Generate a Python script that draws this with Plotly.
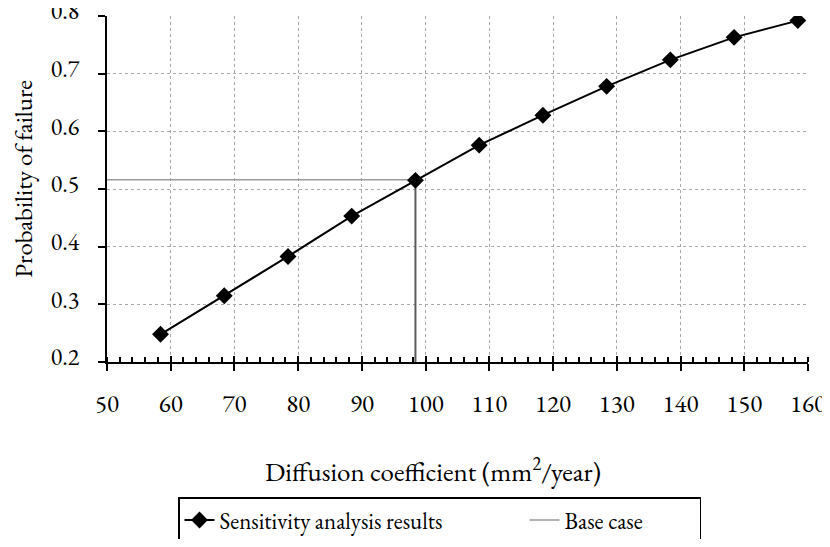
import plotly.graph_objects as go

diffusion = [58.4, 68.4, 78.4, 88.4, 98.4, 108.4, 118.4, 128.4, 138.4, 148.4, 158.4]
prob_failure = [0.248, 0.315, 0.383, 0.453, 0.515, 0.576, 0.628, 0.678, 0.724, 0.763, 0.792]
base_h_x = [50, 98.4]
base_h_y = [0.516, 0.516]
base_v_x = [98.4, 98.4]
base_v_y = [0.516, 0.2]

FONT = "EB Garamond, Liberation Serif, Times New Roman, serif"
OFF = 8  # page body margin in the browser
W, H = 830 - OFF, 547 - 2 * OFF
# target plot-area edges in screen pixels
SX0, SX1, SY0, SY1 = 107, 808, 16, 362.5
L, T = SX0 - OFF, SY0 - OFF
R, B = W - (SX1 - OFF), H - (SY1 - OFF)
PW, PH = SX1 - SX0, SY1 - SY0


def px_x(p):
    return (p - SX0) / PW


def px_y(p):
    return (SY1 - p) / PH


def f(size):
    return dict(family=FONT, size=size, color="black")


fig = go.Figure()
fig.add_trace(go.Scatter(
    x=base_v_x, y=base_v_y, mode="lines", showlegend=False,
    line=dict(color="#5a5a5a", width=2), hoverinfo="skip",
))
fig.add_trace(go.Scatter(
    x=base_h_x, y=base_h_y, mode="lines", name="Base case",
    line=dict(color="#9a9a9a", width=1.6), legendrank=2, legendwidth=130,
))
fig.add_trace(go.Scatter(
    x=diffusion, y=prob_failure, mode="lines+markers",
    name="Sensitivity analysis results", legendrank=1, legendwidth=300,
    line=dict(color="black", width=2),
    marker=dict(symbol="diamond", size=13, color="black"),
))
fig.add_trace(go.Scatter(x=[50], y=[0.2], xaxis="x2", mode="markers",
                         marker=dict(opacity=0), showlegend=False, hoverinfo="skip"))

grid = dict(showgrid=True, gridcolor="#a8a8a8", griddash="dot", gridwidth=1)

fig.update_layout(
    width=W, height=H,
    margin=dict(l=L, r=R, t=T, b=B, autoexpand=False),
    paper_bgcolor="white", plot_bgcolor="white",
    font=f(24),
    showlegend=True,
    legend=dict(
        orientation="h", xref="container", yref="container",
        x=(178 - OFF) / W, xanchor="left", y=1 - (497 - OFF) / H, yanchor="top",
        bordercolor="black", borderwidth=1.5, font=f(23),
        traceorder="normal",
    ),
    xaxis=dict(
        range=[50, 160], dtick=10, tick0=50, automargin=False,
        showline=True, linecolor="black", linewidth=2,
        ticks="outside", ticklen=7, tickwidth=2, tickcolor="black",
        minor=dict(dtick=2, ticks="inside", ticklen=5, tickwidth=2, tickcolor="black", showgrid=False),
        zeroline=False, ticklabelstandoff=11, ticklabeloverflow="allow",
        tickfont=f(25),
        **grid,
    ),
    xaxis2=dict(
        range=[50, 160], dtick=10, tick0=50, overlaying="x", anchor="y",
        side="bottom", ticks="inside", ticklen=6, tickwidth=2, tickcolor="black",
        showticklabels=False, showgrid=False, showline=False, zeroline=False,
        automargin=False,
    ),
    yaxis=dict(
        range=[0.2, 0.8], dtick=0.1, tickformat=".1f", automargin=False,
        showline=True, linecolor="black", linewidth=2,
        ticks="outside", ticklen=7, tickwidth=2, tickcolor="black",
        zeroline=False, ticklabelstandoff=14, ticklabeloverflow="allow",
        ticklabelshift=-5,
        tickfont=f(24),
        **grid,
    ),
    annotations=[
        dict(text="Probability of failure", xref="paper", yref="paper",
             x=px_x(23), y=px_y(179), xanchor="center", yanchor="middle",
             textangle=-90, showarrow=False, font=f(25)),
        dict(text="Diffusion coefficient (mm<sup>2</sup>/year)", xref="paper", yref="paper",
             x=px_x(433), y=px_y(471), xanchor="center", yanchor="middle",
             showarrow=False, font=f(27)),
    ],
)

fig.write_html("out.html")
